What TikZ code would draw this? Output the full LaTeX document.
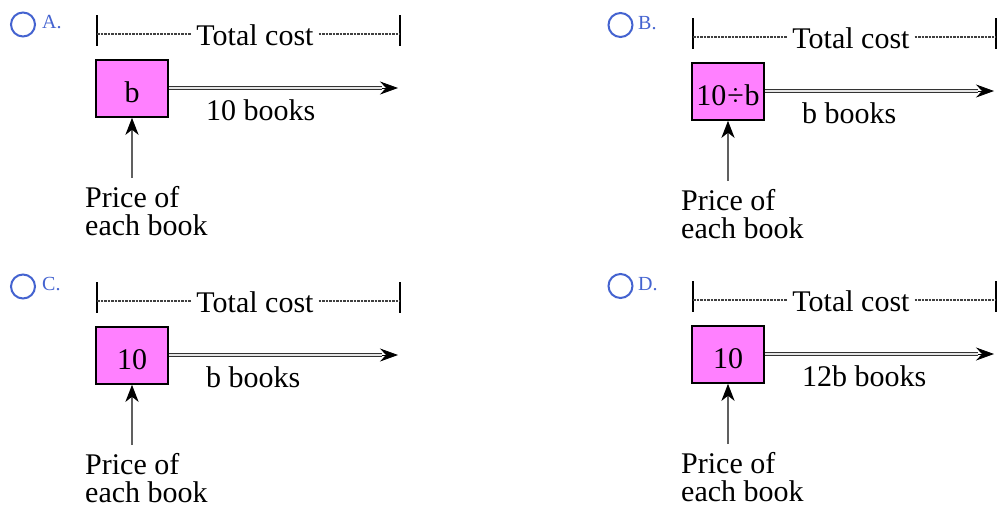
\documentclass[tikz,border=0pt]{standalone}
\usepackage{fontspec}
\setmainfont{Liberation Serif}
\usetikzlibrary{arrows.meta}
\definecolor{boxpink}{HTML}{FF80FF}
\definecolor{optblue}{HTML}{4463D0}
\tikzset{
  txt/.style={font=\fontsize{30}{28}\selectfont, inner sep=0pt},
  pbox/.style={draw=black, line width=1.5pt, fill=boxpink, minimum width=72pt,
    minimum height=57pt, inner sep=0pt, text height=27pt, text depth=0pt,
    font=\fontsize{30}{28}\selectfont},
  bar/.style={line width=2pt},
  dots/.style={line width=1.6pt, draw=black!75, dash pattern=on 2.5pt off 1pt},
  dbl/.style={double=gray!20, draw=black!80, line width=0.9pt, double distance=1.4pt},
  headtip/.style={line width=0.8pt, -{Stealth[length=18pt,width=13pt,inset=6pt]}},
  uparrow/.style={line width=2.6pt, draw=gray!75!black,
    -{Stealth[length=17pt,width=13pt,inset=5pt,color=black]}},
  optcircle/.style={draw=optblue, line width=2pt, circle, minimum size=24pt, inner sep=0pt},
  optlbl/.style={text=optblue, font=\fontsize{20}{20}\selectfont, inner sep=0pt, anchor=base west},
}
\newcommand\mypanel[5]{%
  \begin{scope}[shift={(#2,#3)}]
    \coordinate (bl#1) at (97,15);
    \coordinate (bb#1) at (97,46);
    \coordinate (br#1) at (400,15);
    \coordinate (brb#1) at (400,46);
    \coordinate (dl#1) at (97,34);
    \coordinate (dr#1) at (400,34);
    \draw[bar] (bl#1) -- (bb#1);
    \draw[bar] (br#1) -- (brb#1);
    \node[txt, anchor=base, inner xsep=5pt] (tc#1) at (255,45) {Total cost};
    \draw[dots] (dl#1) -- (dl#1 -| tc#1.west);
    \draw[dots] (dr#1 -| tc#1.east) -- (dr#1);
    \node[pbox] (box#1) at (132,88.5) {#4};
    \coordinate (end#1) at (398,88);
    \coordinate (hs#1) at (382,88);
    \draw[dbl] (box#1.east |- end#1) -- (hs#1);
    \draw[headtip] (hs#1) -- (end#1);
    \node[txt, anchor=base west] (bk#1) at (206,120) {#5};
    \node[txt, align=left, anchor=north west] (pr#1) at (85,186) {Price of\\each book};
    \draw[uparrow] ([yshift=8pt]pr#1.north -| box#1.south) -- (box#1.south);
  \end{scope}}
\begin{document}
\begin{tikzpicture}[x=1pt, y=-1pt]
  \useasboundingbox (0,0) rectangle (997,504);
  \mypanel{A}{0}{0}{b}{10 books}
  \mypanel{B}{596}{3}{10\kern1pt÷\kern1pt b}{b books}
  \mypanel{C}{0}{267}{10}{b books}
  \mypanel{D}{596}{266}{10}{12b books}
  \node[optcircle] (cA) at (23,24.5) {};
  \node[optlbl] (lA) at (42,28) {A.};
  \node[optcircle] (cB) at (620.5,25) {};
  \node[optlbl] (lB) at (638,29) {B.};
  \node[optcircle] (cC) at (23,286.5) {};
  \node[optlbl] (lC) at (42,290) {C.};
  \node[optcircle] (cD) at (620.5,286) {};
  \node[optlbl] (lD) at (638,290) {D.};
\end{tikzpicture}
\end{document}
